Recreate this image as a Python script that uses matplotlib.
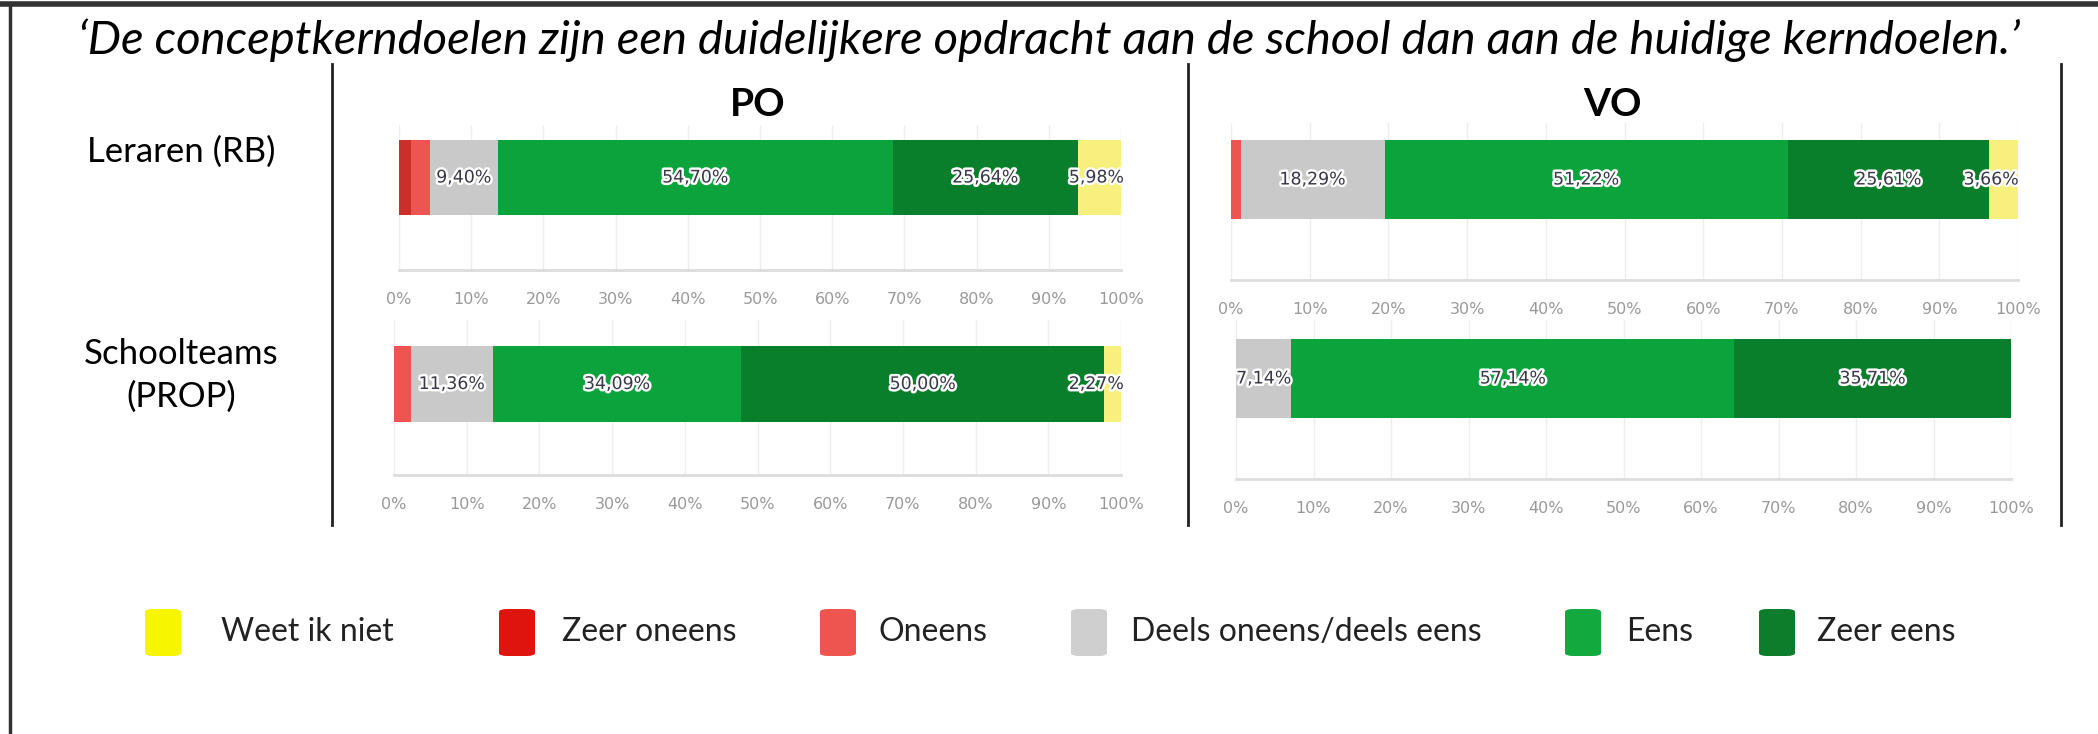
import numpy as np
import matplotlib
matplotlib.use('Agg')
import matplotlib.pyplot as plt
from matplotlib.patches import FancyBboxPatch
from matplotlib.lines import Line2D
import matplotlib.patheffects as pe

W, H = 2098, 734

# answer categories in stacking order (left -> right inside a bar)
stack_order = ['Zeer oneens', 'Oneens', 'Deels oneens/deels eens', 'Eens', 'Zeer eens', 'Weet ik niet']
legend_order = ['Weet ik niet', 'Zeer oneens', 'Oneens', 'Deels oneens/deels eens', 'Eens', 'Zeer eens']

# percentages per panel, same order as stack_order
po_leraren = [1.71, 2.56, 9.40, 54.70, 25.64, 5.98]
po_teams = [0.0, 2.27, 11.36, 34.09, 50.00, 2.27]
vo_leraren = [0.0, 1.22, 18.29, 51.22, 25.61, 3.66]
vo_teams = [0.0, 0.0, 7.14, 57.14, 35.71, 0.0]

labelled = ['Deels oneens/deels eens', 'Eens', 'Zeer eens', 'Weet ik niet']
ticks = np.arange(0, 101, 10)
tick_labels = [f'{t}%' for t in ticks]

title = '\u2018De conceptkerndoelen zijn een duidelijkere opdracht aan de school dan aan de huidige kerndoelen.\u2019'
row_labels = ['Leraren (RB)', 'Schoolteams\n(PROP)']
col_labels = ['PO', 'VO']

bar_colors = {
    'Zeer oneens': '#cc2f2a',
    'Oneens': '#ef5550',
    'Deels oneens/deels eens': '#c9c9c9',
    'Eens': '#0aa33c',
    'Zeer eens': '#0a7f2b',
    'Weet ik niet': '#f7f07c',
}
legend_colors = {
    'Weet ik niet': '#f8f500',
    'Zeer oneens': '#e0140e',
    'Oneens': '#ee5550',
    'Deels oneens/deels eens': '#cfcfcf',
    'Eens': '#12aa3e',
    'Zeer eens': '#0b7d2b',
}

plt.rcParams['font.family'] = ['Lato', 'DejaVu Sans']

fig = plt.figure(figsize=(W / 100, H / 100), dpi=100)


def fx(x):
    return x / W


def fy(y):
    return 1 - y / H


def panel(values, left, right, top, bottom, bar_top, bar_bottom):
    ax = fig.add_axes([fx(left), fy(bottom), fx(right - left), (bottom - top) / H])
    scale = 0.8 / (bar_bottom - bar_top)
    ax.set_ylim(-0.4 - (bottom - bar_bottom) * scale, 0.4 + (bar_top - top) * scale)
    ax.set_xlim(0, 100)
    lefts = np.concatenate([[0], np.cumsum(values)[:-1]])
    for cat, v, l in zip(stack_order, values, lefts):
        if v <= 0:
            continue
        ax.barh(0, v, left=l, height=0.8, color=bar_colors[cat], zorder=3)
        if cat in labelled:
            cx = np.clip(l + v / 2, 0, 96.6)
            ax.text(cx, 0, f'{v:.2f}%'.replace('.', ','), ha='center', va='center',
                    fontsize=12.5, color='#383846', family='DejaVu Sans', zorder=5,
                    path_effects=[pe.withStroke(linewidth=3.5, foreground='white')])
    ax.set_xticks(ticks)
    ax.set_xticklabels(tick_labels, fontsize=11.5, color='#999999', family='DejaVu Sans')
    ax.tick_params(axis='x', length=0, pad=16)
    ax.set_yticks([])
    ax.grid(axis='x', color='#eeeeee', lw=1, zorder=0)
    for s in ['top', 'right', 'left']:
        ax.spines[s].set_visible(False)
    ax.spines['bottom'].set_color('#dcdcdc')
    ax.spines['bottom'].set_linewidth(2)
    return ax


panel(po_leraren, 399, 1121, 125, 270, 140, 215)
panel(po_teams, 394, 1121, 320, 475, 346, 422)
panel(vo_leraren, 1231, 2018, 123, 280, 140, 219)
panel(vo_teams, 1236, 2011, 320, 479, 339, 418)

# title and headers
fig.text(0.5, fy(40), title, ha='center', va='center', fontsize=34, style='italic')
fig.text(fx(758), fy(104), col_labels[0], ha='center', va='center', fontsize=28, weight='bold')
fig.text(fx(1612), fy(104), col_labels[1], ha='center', va='center', fontsize=28, weight='bold')
fig.text(fx(181), fy(152), row_labels[0], ha='center', va='center', fontsize=25)
fig.text(fx(181), fy(375), row_labels[1], ha='center', va='center', fontsize=25, linespacing=1.4)

# divider lines and frame
for x in [332, 1188, 2061]:
    fig.add_artist(Line2D([fx(x), fx(x)], [fy(64), fy(525)], color='#222222', lw=2))
fig.add_artist(Line2D([0, 1], [fy(4), fy(4)], color='#333333', lw=4))
fig.add_artist(Line2D([fx(10), fx(10)], [fy(4), 0], color='#333333', lw=2.5))

# legend
marker_x = [145, 499, 820, 1071, 1565, 1759]
text_x = [221, 562, 879, 1131, 1626, 1817]
for cat, mx, tx in zip(legend_order, marker_x, text_x):
    fig.add_artist(FancyBboxPatch((fx(mx), fy(656)), fx(36), 47 / H,
                                  boxstyle='round,pad=0,rounding_size=0.004',
                                  facecolor=legend_colors[cat], edgecolor='none'))
    fig.text(fx(tx), fy(632), cat, ha='left', va='center', fontsize=23, color='#222222')

fig.savefig('out.png', dpi=100)
